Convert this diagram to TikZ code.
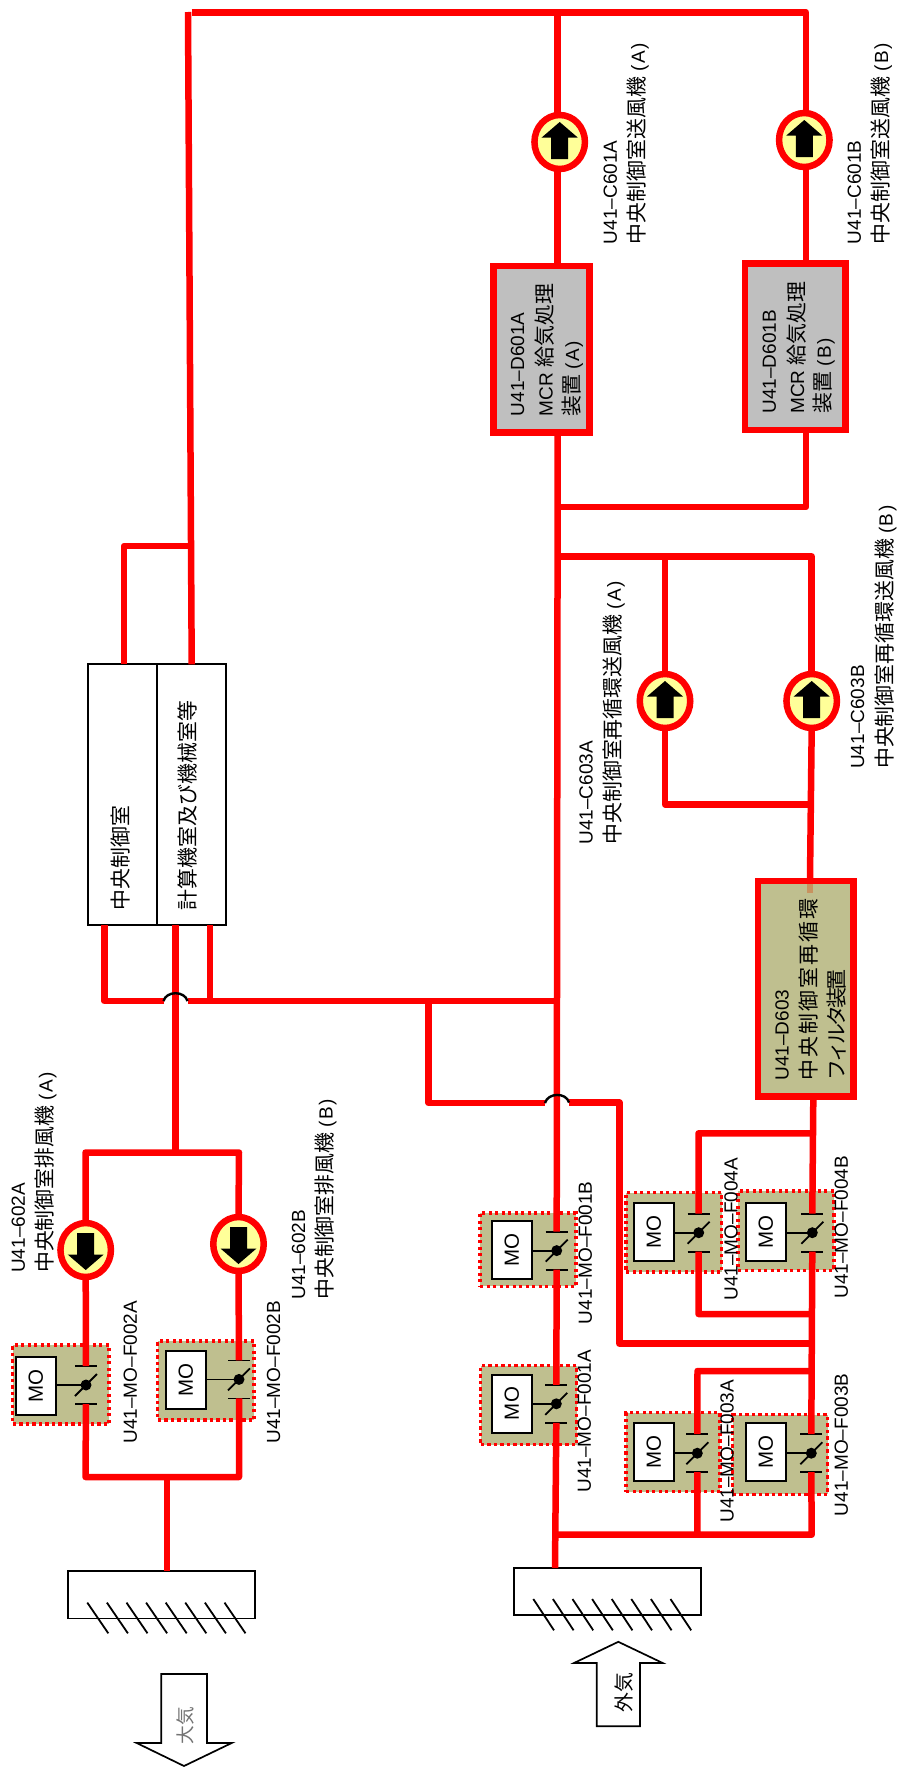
\documentclass[tikz,border=0pt]{standalone}
\usepackage{fontspec}
\setmainfont{Liberation Sans}
\newfontfamily\cjkfont[Scale=1.1]{Noto Sans CJK JP}
\newfontfamily\cjkwide[Scale=1.1,LetterSpace=10]{Noto Sans CJK JP}
\newfontfamily\cjktight[Scale=1.1,LetterSpace=-13]{Noto Sans CJK JP}
\usetikzlibrary{fit,shapes.geometric}
\definecolor{pipered}{HTML}{FF0000}
\definecolor{olive}{HTML}{BFBF8F}
\definecolor{fanyellow}{HTML}{FFFF99}
\definecolor{boxgray}{HTML}{BFBFBF}
\definecolor{stubcol}{HTML}{C8925F}
\newcommand\J[1]{{\cjkfont #1}}
\newcommand\PA[1]{\hspace{5pt}(\hspace{1.5pt}#1\hspace{1.5pt})}
\tikzset{
  pipe/.style={draw=pipered,line width=6.5pt,line join=round},
  fanshape/.style={ellipse,draw=pipered,fill=fanyellow,line width=6.5pt,minimum width=50.5pt,minimum height=54pt,inner sep=0pt,outer sep=0pt},
  valveback/.style={draw=pipered,fill=olive,line width=3.3pt,dash pattern=on 3.3pt off 3.2pt,inner sep=0pt,outer sep=0pt},
  mobox/.style={draw=black,fill=white,line width=2pt,rotate=90,minimum width=58pt,minimum height=40pt,inner sep=0pt,outer sep=0pt,font=\fontsize{20.5}{24}\selectfont},
  bigred/.style={draw=pipered,line width=6.5pt,inner sep=0pt,outer sep=0pt},
  plainbox/.style={draw=black,fill=white,line width=1.7pt,inner sep=0pt,outer sep=0pt},
  blk/.style={draw=black,line width=1.8pt},
  jump/.style={draw=black,line width=2.4pt},
  lbl/.style={rotate=90,anchor=base west,inner sep=0pt,outer sep=0pt,font=\fontsize{19}{22}\selectfont},
}
\newcommand\lbl[4]{\node[lbl] (#1) at ([xshift=7.5pt]#2,#3) {#4};}
\newcommand\fan[4]{%
  \node[fanshape] (#1) at (#2,#3) {};
  \fill[black,shift={(#2,#3)},yscale=#4] (0,-20) -- (18,-4.5) -- (8.5,-4.5) -- (8.5,17) -- (-8.5,17) -- (-8.5,-4.5) -- (-18,-4.5) -- cycle;
}
\newcommand\valve[5]{%
  \node[valveback,fit={(#2)(#3)}] (#1-bg) {};
  \node[mobox] (#1-mo) at (#4) {MO};
  \coordinate (#1-c) at (#5);
  \coordinate (#1-t) at ([shift={(0,-19)}]#1-c);
  \coordinate (#1-b) at ([shift={(0,19)}]#1-c);
  \draw[blk] (#1-mo.south |- #1-c) -- (#1-c);
  \draw[blk] ([shift={(-11,0)}]#1-t) -- ([shift={(11,0)}]#1-t);
  \draw[blk] ([shift={(-11,0)}]#1-b) -- ([shift={(11,0)}]#1-b);
  \draw[blk] ([shift={(-11,11)}]#1-c) -- ([shift={(11,-11)}]#1-c);
  \fill[black] (#1-c) circle (5.5);
}
\begin{document}
\begin{tikzpicture}[x=1pt,y=-1pt]
\useasboundingbox (0,0) rectangle (899,1769);

% ---- rooms, vents, equipment
\node[plainbox,fit={(88.3,664.3)(157,925)}] (rmA) {};
\node[plainbox,fit={(157,664.3)(226,925)}] (rmB) {};
\node[plainbox,fit={(68.3,1571)(255,1618.4)}] (ventL) {};
\node[plainbox,fit={(514.3,1568)(701,1615)}] (ventR) {};
\foreach \i in {0,...,7}{
  \draw[blk] (87.3+19.6*\i,1602.6) -- (108.3+19.6*\i,1633.3);
  \draw[blk] (533.3+19.6*\i,1599) -- (554+19.6*\i,1630.3);
}
\node[bigred,fill=boxgray,fit={(493.6,265.8)(589.3,432.4)}] (d601a) {};
\node[bigred,fill=boxgray,fit={(745,263.7)(845.4,429.9)}] (d601b) {};
\node[bigred,fill=olive,fit={(758,881)(853.4,1096.5)}] (d603) {};

\fan{c601a}{559.7}{142}{1}
\fan{c601b}{804.3}{140}{1}
\fan{c603a}{665}{701}{1}
\fan{c603b}{811.7}{701}{1}
\fan{f602a}{85.7}{1250}{-1}
\fan{f602b}{238.5}{1244}{-1}

\valve{F002A}{12.7,1345}{109,1424}{35.7,1386}{86,1385}
\valve{F002B}{157.7,1341}{254,1420}{185.7,1380}{239,1379.4}
\valve{F001B}{480,1213}{576,1286.4}{511.7,1250}{556.7,1250.6}
\valve{F001A}{480.7,1365.8}{576.7,1444.7}{511.7,1403.5}{556.3,1403.8}
\valve{F004A}{626,1192.6}{721.7,1272}{653.7,1231.6}{698.7,1232.7}
\valve{F004B}{738,1190.9}{834,1270.2}{765.7,1231.6}{812.3,1232.7}
\valve{F003A}{626,1412.7}{720,1491.6}{653.7,1452}{697.3,1453.2}
\valve{F003B}{732.7,1414.8}{827.7,1494.2}{765.7,1452}{811.3,1453.2}

% ---- arrows
\draw[black,fill=white,line width=1.7pt] (161.3,1674) -- (207,1674) -- (207,1743) -- (231.7,1743) -- (184,1766) -- (136.7,1743) -- (161.3,1743) -- cycle;
\draw[black,fill=white,line width=1.7pt] (596.7,1726.3) -- (640,1726.3) -- (640,1663) -- (662.7,1663) -- (618.3,1641.8) -- (574,1663) -- (596.7,1663) -- cycle;

% ---- named junctions
\coordinate (tbL) at (191.7,12.3);
\coordinate (tvT) at (188,12);
\coordinate (tbA) at (557.7,12.3);
\coordinate (tbR) at (806,12.3);
\coordinate (cA1) at (557.7,507);
\coordinate (cB1) at (806,507);
\coordinate (m556) at (557.7,556.4);
\coordinate (b1) at (665,556.4);
\coordinate (b2) at (811.7,556.4);
\coordinate (b3) at (665,804.3);
\coordinate (b4) at (811,804.3);
\coordinate (a1) at (124,546);
\coordinate (a2) at (191,546);
\coordinate (rmAt) at (124,664.3);
\coordinate (rmBt) at (191.7,664.3);
\coordinate (rmAb) at (104.3,925);
\coordinate (rmBb1) at (175.7,925);
\coordinate (rmBb2) at (210,925);
\coordinate (h1) at (104.3,1001);
\coordinate (jL1) at (163.5,1001);
\coordinate (jR1) at (187.5,1001);
\coordinate (h2) at (210,1001);
\coordinate (h3) at (428.7,1001);
\coordinate (h4) at (557.7,1001);
\coordinate (h5) at (428.7,1103);
\coordinate (jL2) at (545,1103);
\coordinate (jR2) at (569,1102.5);
\coordinate (h6) at (619.3,1102.5);
\coordinate (h7) at (619.3,1343.6);
\coordinate (h8) at (812.5,1343.6);
\coordinate (s1) at (175.7,1152.5);
\coordinate (fA) at (85.5,1152.5);
\coordinate (fB) at (239,1152.5);
\coordinate (bA) at (85.5,1477);
\coordinate (bB) at (239,1477);
\coordinate (bS) at (167,1477);
\coordinate (rc0) at (813.3,1099.8);
\coordinate (rc1) at (813,1133.3);
\coordinate (t1) at (698.5,1133.3);
\coordinate (t2) at (698.5,1314);
\coordinate (rc2) at (812,1314);
\coordinate (rc3) at (812,1371);
\coordinate (t3) at (697.5,1371);
\coordinate (t4) at (697.5,1534.7);
\coordinate (bc) at (811.7,1534.7);
\coordinate (bl) at (555.5,1534.7);
\coordinate (ventRt) at (555,1568);
\coordinate (d603t) at (810,878);
\coordinate (stubB) at (813,893);
\coordinate (stubA) at (807,883.5);

% ---- pipes
\draw[pipe] (rmAt) -- (a1) -- (a2);
\draw[pipe] (rmBt) -- (tvT);
\draw[pipe] (tbL) -- (tbR) -- (tbR |- c601b.north);
\draw[pipe] (tbR |- c601b.south) -- (tbR |- d601b.north);
\draw[pipe] (tbR |- d601b.south) -- (cB1) -- (cA1);
\draw[pipe] (tbA) -- (tbA |- c601a.north);
\draw[pipe] (tbA |- c601a.south) -- (tbA |- d601a.north);
\draw[pipe] (tbA |- d601a.south) -- (F001B-t);
\draw[pipe] (m556) -- (b2) -- (b2 |- c603b.north);
\draw[pipe] (b1) -- (b1 |- c603a.north);
\draw[pipe] (c603a.south) -- (b3) -- (b4);
\draw[pipe] (c603b.south) -- (d603t);
\draw[pipe] (rmAb) -- (h1) -- (jL1);
\draw[pipe] (jR1) -- (h2) -- (h3) -- (h4);
\draw[pipe] (rmBb2) -- (h2);
\draw[pipe] (rmBb1) -- (s1);
\draw[pipe] (f602a.north) -- (fA) -- (fB) -- (f602b.north);
\draw[pipe] (f602a.south) -- (F002A-t);
\draw[pipe] (f602b.south) -- (F002B-t);
\draw[pipe] (F002A-b) -- (bA) -- (bB) -- (F002B-b);
\draw[pipe] (bS) -- (bS |- ventL.north);
\draw[pipe] (h3) -- (h5) -- (jL2);
\draw[pipe] (jR2) -- (h6) -- (h7) -- (h8);
\draw[pipe] (F001B-b) -- (F001A-t);
\draw[pipe] (F001A-b) -- (ventRt);
\draw[pipe] (rc0) -- (F004B-t);
\draw[pipe] (F004B-b) -- (F003B-t);
\draw[pipe] (rc1) -- (t1) -- (F004A-t);
\draw[pipe] (F004A-b) -- (t2) -- (rc2);
\draw[pipe] (rc3) -- (t3) -- (F003A-t);
\draw[pipe] (F003A-b) -- (t4);
\draw[pipe] (F003B-b) -- (bc) -- (bl);
\fill[stubcol] (stubA) rectangle (stubB);

% ---- crossings
\draw[jump] (jL1) to[out=75,in=105,looseness=1.15] (jR1);
\draw[jump] (jL2) to[out=75,in=105,looseness=1.15] (jR2);

% ---- labels
\lbl{t1a}{17.3}{1272.8}{U41–602A}
\lbl{t1b}{45}{1272.8}{\J{中央制御室排風機}\PA{A}}
\lbl{t2a}{297.7}{1299.7}{U41–602B}
\lbl{t2b}{325}{1299.7}{\J{中央制御室排風機}\PA{B}}
\lbl{t3}{129.3}{1443.4}{U41–MO–F002A}
\lbl{t4}{272.7}{1443.4}{U41–MO–F002B}
\lbl{t5}{584.3}{1324}{U41–MO–F001B}
\lbl{t6}{583.3}{1492.5}{U41–MO–F001A}
\lbl{t7}{730}{1300.5}{U41–MO–F004A}
\lbl{t8}{840.3}{1298.4}{U41–MO–F004B}
\lbl{t9}{726}{1522.4}{U41–MO–F003A}
\lbl{t10}{840.3}{1516}{U41–MO–F003B}
\lbl{t11a}{609.3}{244}{U41–C601A}
\lbl{t11b}{637.3}{244}{\J{中央制御室送風機}\PA{A}}
\lbl{t12a}{853.3}{244}{U41–C601B}
\lbl{t12b}{880.7}{244}{\J{中央制御室送風機}\PA{B}}
\lbl{t13a}{585}{844.5}{U41–C603A}
\lbl{t13b}{613.3}{844.5}{\J{中央制御室再循環送風機}\PA{A}}
\lbl{t14a}{856.7}{768.8}{U41–C603B}
\lbl{t14b}{885}{768.8}{\J{中央制御室再循環送風機}\PA{B}}
\lbl{t15a}{516.7}{416}{U41–D601A}
\lbl{t15b}{545}{416}{MCR \J{給気処理}}
\lbl{t15c}{571.7}{416}{\J{装置}\PA{A}}
\lbl{t16a}{768.3}{413.6}{U41–D601B}
\lbl{t16b}{796.7}{413.6}{MCR \J{給気処理}}
\lbl{t16c}{823.3}{413.6}{\J{装置}\PA{B}}
\lbl{t17a}{781}{1080.6}{U41–D603}
\lbl{t17b}{809.3}{1080.6}{{\cjkwide 中央制御室再循環}}
\lbl{t17c}{836.7}{1080.6}{{\cjktight フィルタ装置}}
\lbl{t18}{121}{910}{\J{中央制御室}}
\lbl{t19}{188.3}{910}{\J{計算機室及び機械室等}}
\lbl{t20}{185}{1744}{\textcolor{black!55}{\fontsize{17}{20}\selectfont\J{大気}}}
\lbl{t21}{624}{1712}{\fontsize{18}{20}\selectfont\J{外気}}
\end{tikzpicture}
\end{document}
